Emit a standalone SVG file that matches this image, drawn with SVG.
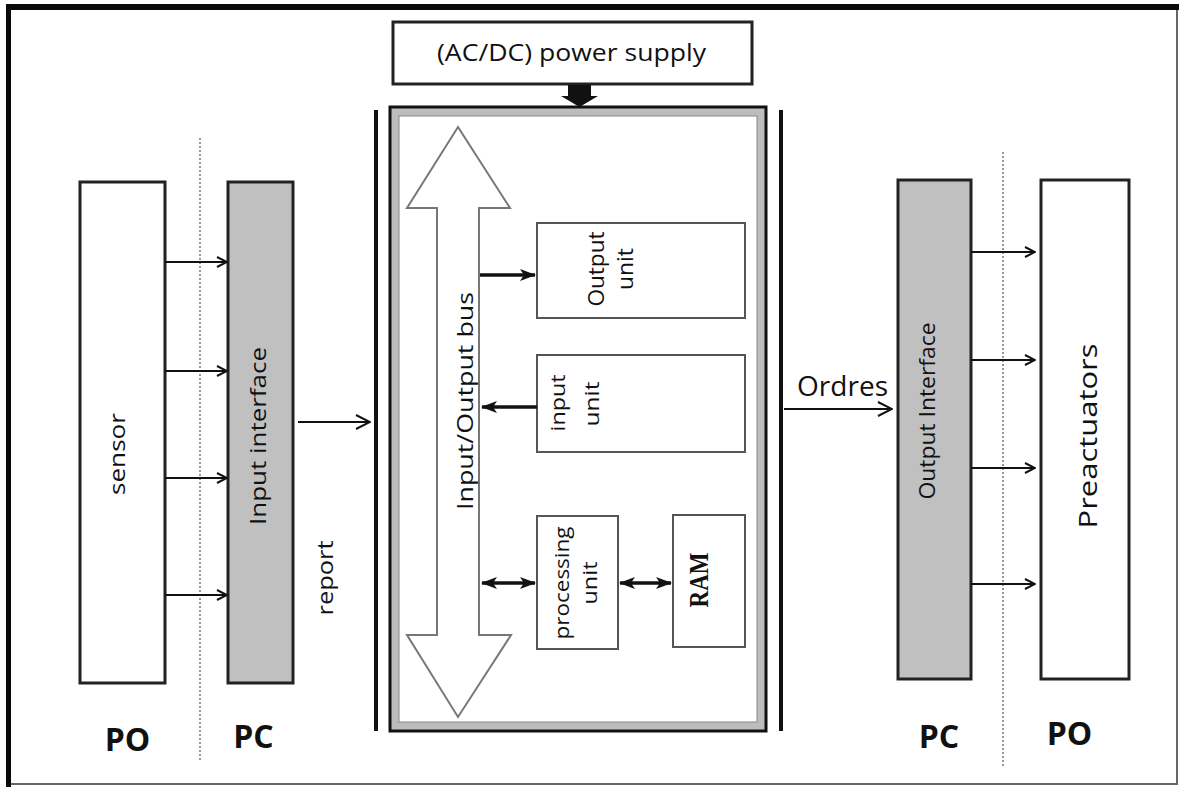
<svg xmlns="http://www.w3.org/2000/svg" width="1179" height="787" viewBox="0 0 1179 787">
<defs>
<style>
.t{font-family:"Open Sans","Noto Sans",sans-serif;fill:#111;}
.box{fill:#fff;stroke:#222;stroke-width:3;}
.gbox{fill:#c0c0c0;stroke:#222;stroke-width:3;}
.ubox{fill:#fff;stroke:#555;stroke-width:2;}
.ln{stroke:#111;stroke-width:2;fill:none;}
.thick{stroke:#111;stroke-width:3.5;fill:none;}
.dot{stroke:#777;stroke-width:1.5;stroke-dasharray:2 2;fill:none;}
.big{font-family:"Open Sans","Noto Sans",sans-serif;font-weight:bold;font-size:32px;fill:#111;}
</style>
<marker id="open" viewBox="0 0 12 12" refX="11" refY="6" markerWidth="12" markerHeight="12" markerUnits="userSpaceOnUse" orient="auto">
<path d="M1,1 L11,6 L1,11" fill="none" stroke="#111" stroke-width="2"/>
</marker>
<marker id="openL" viewBox="0 0 16 16" refX="15" refY="8" markerWidth="16" markerHeight="16" markerUnits="userSpaceOnUse" orient="auto">
<path d="M1,1 L15,8 L1,15" fill="none" stroke="#111" stroke-width="2"/>
</marker>
<marker id="fill" viewBox="0 0 16 14" refX="15" refY="7" markerWidth="16" markerHeight="14" markerUnits="userSpaceOnUse" orient="auto-start-reverse">
<path d="M0,1 L16,7 L0,13 L4,7 Z" fill="#111"/>
</marker>
</defs>
<rect width="1179" height="787" fill="#fff"/>
<g id="frame">
<line x1="6" y1="7" x2="1179" y2="7" stroke="#0a0a0a" stroke-width="6"/>
<line x1="8.5" y1="4" x2="8.5" y2="787" stroke="#0a0a0a" stroke-width="5"/>
<line x1="1177" y1="10" x2="1177" y2="785" stroke="#666" stroke-width="2"/>
<line x1="11" y1="784" x2="1178" y2="784" stroke="#666" stroke-width="2"/>
</g>
<g id="dividers">
<line class="dot" x1="200" y1="138" x2="200" y2="762"/>
<line class="dot" x1="1003" y1="152" x2="1003" y2="768"/>
<line x1="376" y1="110" x2="376" y2="731" stroke="#111" stroke-width="4"/>
<line x1="781" y1="110" x2="781" y2="731" stroke="#111" stroke-width="4"/>
</g>
<g id="power">
<rect class="box" x="393" y="22" width="359" height="62"/>
<text class="t" x="571.5" y="61" font-size="24" text-anchor="middle" textLength="269" lengthAdjust="spacingAndGlyphs">(AC/DC) power supply</text>
</g>
<g id="plc">
<rect x="390" y="107" width="376" height="624" fill="#bdbdbd" stroke="#111" stroke-width="3"/>
<rect x="399" y="116" width="358" height="606" fill="#fff" stroke="#888" stroke-width="1"/>
</g>
<g id="bus">
<path d="M458,127 L510,208 L479,208 L479,635 L511,635 L458,717 L407,635 L437,635 L437,208 L407,208 Z" fill="#fff" stroke="#777" stroke-width="2"/>
<text class="t" font-size="22" text-anchor="middle" textLength="218" lengthAdjust="spacingAndGlyphs" transform="translate(473,401) rotate(-90)">Input/Output bus</text>
</g>
<g id="output-unit">
<rect class="ubox" x="537" y="223" width="208" height="95"/>
<text class="t" font-size="21" text-anchor="middle" textLength="75" lengthAdjust="spacingAndGlyphs" transform="translate(604,269) rotate(-90)">Output</text>
<text class="t" font-size="21" text-anchor="middle" textLength="42" lengthAdjust="spacingAndGlyphs" transform="translate(633,269) rotate(-90)">unit</text>
</g>
<g id="input-unit">
<rect class="ubox" x="537" y="355" width="208" height="97"/>
<text class="t" font-size="20" text-anchor="middle" textLength="57" lengthAdjust="spacingAndGlyphs" transform="translate(565,403) rotate(-90)">input</text>
<text class="t" font-size="20" text-anchor="middle" textLength="45" lengthAdjust="spacingAndGlyphs" transform="translate(599,404) rotate(-90)">unit</text>
</g>
<g id="processing-unit">
<rect class="ubox" x="537" y="516" width="81" height="133"/>
<text class="t" font-size="20" text-anchor="middle" textLength="113" lengthAdjust="spacingAndGlyphs" transform="translate(569,583) rotate(-90)">processing</text>
<text class="t" font-size="20" text-anchor="middle" textLength="43" lengthAdjust="spacingAndGlyphs" transform="translate(597,583) rotate(-90)">unit</text>
</g>
<g id="ram">
<rect class="ubox" x="673" y="515" width="72" height="132"/>
<text font-family="'Liberation Serif',serif" font-weight="bold" font-size="28" fill="#111" text-anchor="middle" textLength="55" lengthAdjust="spacingAndGlyphs" transform="translate(708,580) rotate(-90)">RAM</text>
</g>
<g id="sensor">
<rect class="box" x="80" y="182" width="85" height="501"/>
<text class="t" font-size="22" text-anchor="middle" textLength="82" lengthAdjust="spacingAndGlyphs" transform="translate(125,454) rotate(-90)">sensor</text>
</g>
<g id="input-interface">
<rect class="gbox" x="228" y="182" width="65" height="501"/>
<text class="t" font-size="22" text-anchor="middle" textLength="178" lengthAdjust="spacingAndGlyphs" transform="translate(266,436) rotate(-90)">Input interface</text>
</g>
<g id="output-interface">
<rect class="gbox" x="898" y="180" width="73" height="499"/>
<text class="t" font-size="21" text-anchor="middle" textLength="177" lengthAdjust="spacingAndGlyphs" transform="translate(935,411) rotate(-90)">Output Interface</text>
</g>
<g id="preactuators">
<rect class="box" x="1041" y="180" width="88" height="499"/>
<text class="t" font-size="26" text-anchor="middle" textLength="185" lengthAdjust="spacingAndGlyphs" transform="translate(1097,436) rotate(-90)">Preactuators</text>
</g>
<g id="labels">
<text class="t" font-size="21" text-anchor="middle" textLength="75" lengthAdjust="spacingAndGlyphs" transform="translate(333,578) rotate(-90)">report</text>
<text class="t" font-size="28" text-anchor="middle" x="842.5" y="396" textLength="91" lengthAdjust="spacingAndGlyphs">Ordres</text>
<text class="big" text-anchor="middle" x="127.5" y="751">PO</text>
<text class="big" text-anchor="middle" x="253.5" y="748">PC</text>
<text class="big" text-anchor="middle" x="939" y="748">PC</text>
<text class="big" text-anchor="middle" x="1069.5" y="745">PO</text>
</g>
<g id="connectors">
<path d="M568,85 L591,85 L591,96 L598,96 L579.5,107 L561,96 L568,96 Z" fill="#111"/>
<line class="ln" x1="165" y1="262" x2="227" y2="262" marker-end="url(#open)"/>
<line class="ln" x1="165" y1="371" x2="227" y2="371" marker-end="url(#open)"/>
<line class="ln" x1="165" y1="478" x2="227" y2="478" marker-end="url(#open)"/>
<line class="ln" x1="165" y1="595" x2="227" y2="595" marker-end="url(#open)"/>
<line class="ln" x1="298" y1="422" x2="370" y2="422" marker-end="url(#openL)"/>
<line class="ln" x1="784" y1="409" x2="892" y2="409" marker-end="url(#openL)"/>
<line class="ln" x1="971" y1="252" x2="1035" y2="252" marker-end="url(#open)"/>
<line class="ln" x1="971" y1="360" x2="1035" y2="360" marker-end="url(#open)"/>
<line class="ln" x1="971" y1="468" x2="1035" y2="468" marker-end="url(#open)"/>
<line class="ln" x1="971" y1="584" x2="1035" y2="584" marker-end="url(#open)"/>
<line class="thick" x1="480" y1="275" x2="535" y2="275" marker-end="url(#fill)"/>
<line class="thick" x1="537" y1="407" x2="482" y2="407" marker-end="url(#fill)"/>
<line class="thick" x1="482" y1="583" x2="535" y2="583" marker-start="url(#fill)" marker-end="url(#fill)"/>
<line class="thick" x1="620" y1="583" x2="671" y2="583" marker-start="url(#fill)" marker-end="url(#fill)"/>
</g>
</svg>
